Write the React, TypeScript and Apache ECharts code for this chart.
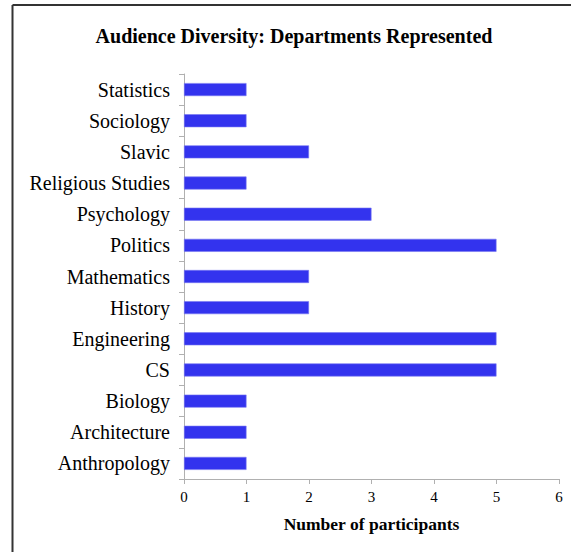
import React, { useEffect, useRef } from "react";
import * as echarts from "echarts";

const categories = [
  "Anthropology",
  "Architecture",
  "Biology",
  "CS",
  "Engineering",
  "History",
  "Mathematics",
  "Politics",
  "Psychology",
  "Religious Studies",
  "Slavic",
  "Sociology",
  "Statistics",
];
const participants = [1, 1, 1, 5, 5, 2, 2, 5, 3, 1, 2, 1, 1];
const xTicks = [0, 1, 2, 3, 4, 5, 6];

const SERIF = "'Liberation Serif', 'Times New Roman', serif";

export default function App() {
  const ref = useRef<HTMLDivElement>(null);
  useEffect(() => {
    if (!ref.current) return;
    const chart = echarts.init(ref.current, undefined, { renderer: "svg" });
    chart.setOption({
      animation: false,
      backgroundColor: "#ffffff",
      title: {
        text: "Audience Diversity: Departments Represented",
        left: 289,
        top: 21,
        textAlign: "center",
        textStyle: {
          fontFamily: SERIF,
          fontWeight: "bold",
          fontSize: 20,
          color: "#000",
        },
      },
      grid: { left: 184, right: 12, top: 74, bottom: 73, containLabel: false },
      xAxis: {
        type: "value",
        min: xTicks[0],
        max: xTicks[xTicks.length - 1],
        interval: 1,
        name: "Number of participants",
        nameLocation: "middle",
        nameGap: 36,
        nameTextStyle: {
          fontFamily: SERIF,
          fontWeight: "bold",
          fontSize: 17.5,
          color: "#000",
        },
        axisLine: { show: true, lineStyle: { color: "#b0b0b0", width: 1 } },
        axisTick: { show: true, length: 5, lineStyle: { color: "#b0b0b0" } },
        axisLabel: {
          fontFamily: SERIF,
          fontSize: 15,
          color: "#000",
          margin: 10,
        },
        splitLine: { show: false },
      },
      yAxis: {
        type: "category",
        data: categories,
        axisLine: { show: true, lineStyle: { color: "#b0b0b0", width: 1 } },
        axisTick: { show: true, length: 5, lineStyle: { color: "#b0b0b0" } },
        axisLabel: {
          fontFamily: SERIF,
          fontSize: 20,
          color: "#000",
          margin: 14,
        },
      },
      series: [
        {
          type: "bar",
          data: participants,
          barWidth: 13,
          itemStyle: {
            color: "#3333ee",
            borderColor: "#7777f2",
            borderWidth: 0.6,
          },
        },
      ],
      graphic: [
        {
          type: "line",
          shape: { x1: 12.5, y1: 5, x2: 571, y2: 5 },
          style: { stroke: "#333333", lineWidth: 2 },
        },
        {
          type: "line",
          shape: { x1: 12.5, y1: 5, x2: 12.5, y2: 552 },
          style: { stroke: "#333333", lineWidth: 2 },
        },
      ],
    });
    return () => chart.dispose();
  }, []);
  return (
    <div
      ref={ref}
      style={{ position: "fixed", left: 0, top: 0, width: 571, height: 552 }}
    />
  );
}
